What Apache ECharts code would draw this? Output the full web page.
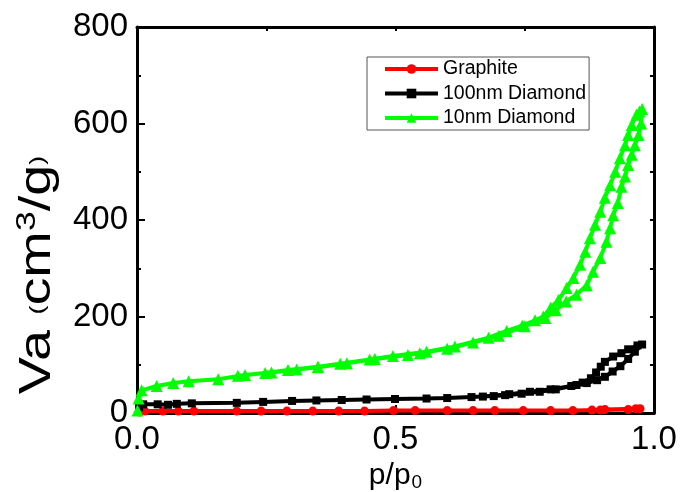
<!DOCTYPE html>
<html>
<head>
<meta charset="utf-8">
<script src="https://cdn.jsdelivr.net/npm/echarts@6/dist/echarts.min.js"></script>
<style>html,body{margin:0;padding:0;background:#fff}#c{width:681px;height:492px}</style>
</head>
<body>
<div id="c"></div>
<script>
// ---- data ----
const seriesNames = ['Graphite', '100nm Diamond', '10nm Diamond'];
const xTickLabels = ['0.0', '0.5', '1.0'];
const yTickLabels = ['0', '200', '400', '600', '800'];

const graphiteP = [0.005, 0.015, 0.05, 0.08, 0.11, 0.193, 0.24, 0.29, 0.34, 0.39, 0.44, 0.496, 0.538, 0.60, 0.65, 0.692, 0.747, 0.80, 0.843, 0.896, 0.95, 0.973, 0.965, 0.905, 0.88];
const graphiteV = [2, 4, 4, 4, 4, 4, 4, 4, 4, 4, 4, 5, 5, 5, 5, 5, 5, 5, 5, 6, 7, 9, 9, 7, 6];

const d100AdsP = [0.004, 0.012, 0.04, 0.06, 0.077, 0.106, 0.193, 0.244, 0.30, 0.347, 0.396, 0.444, 0.499, 0.56, 0.60, 0.647, 0.69, 0.712, 0.744, 0.779, 0.81, 0.85, 0.87, 0.89, 0.905, 0.92, 0.935, 0.95, 0.963, 0.977];
const d100AdsV = [12, 18, 18, 17, 19, 20, 21, 23, 25, 26, 27, 28, 29, 30, 31, 33, 35, 37, 40, 44, 49, 58, 62, 68, 75, 86, 97, 112, 127, 142];
const d100DesP = [0.968, 0.95, 0.937, 0.921, 0.905, 0.897, 0.888, 0.878, 0.862, 0.84, 0.80, 0.76, 0.72, 0.669];
const d100DesV = [140, 132, 124, 117, 106, 96, 84, 72, 63, 56, 49, 44, 39, 34];

const d10AdsP = [0.001, 0.003, 0.009, 0.038, 0.07, 0.10, 0.157, 0.209, 0.26, 0.309, 0.35, 0.406, 0.46, 0.524, 0.547, 0.60, 0.65, 0.70, 0.75, 0.79, 0.81, 0.83, 0.85, 0.87, 0.882, 0.896, 0.908, 0.915, 0.921, 0.93, 0.937, 0.944, 0.95, 0.957, 0.963, 0.97, 0.975, 0.977];
const d10AdsV = [5, 30, 47, 56, 62, 66, 70, 79, 84, 90, 95, 103, 112, 120, 124, 133, 146, 160, 180, 197, 213, 231, 245, 265, 293, 321, 355, 383, 410, 435, 469, 490, 514, 535, 555, 576, 600, 630];
const d10DesP = [0.972, 0.966, 0.957, 0.95, 0.944, 0.934, 0.925, 0.915, 0.905, 0.896, 0.886, 0.876, 0.867, 0.857, 0.844, 0.831, 0.815, 0.80, 0.786, 0.77, 0.745, 0.715, 0.68, 0.615, 0.56, 0.495, 0.45, 0.393, 0.35, 0.292, 0.248, 0.195];
const d10DesV = [625, 618, 597, 576, 555, 528, 500, 472, 446, 417, 390, 362, 334, 307, 280, 259, 234, 218, 200, 192, 181, 170, 156, 138, 127, 118, 111, 102, 96, 89, 83, 77];

function zip(p, v) { return p.map((x, i) => [x, v[i]]); }
const graphiteData = zip(graphiteP, graphiteV);
const d100Data = zip(d100AdsP.concat(d100DesP), d100AdsV.concat(d100DesV));
const d10Data = zip(d10AdsP.concat(d10DesP), d10AdsV.concat(d10DesV));

const FONT = 'Liberation Sans, Arial, Helvetica, sans-serif';
const chart = echarts.init(document.getElementById('c'), null, { renderer: 'canvas' });

function lineSeries(name, data, color, symbol, size) {
  return {
    name, type: 'line', data, clip: false,
    symbol, symbolSize: size, showSymbol: true,
    lineStyle: { color, width: 4 },
    itemStyle: { color, borderWidth: 0 },
    emphasis: { disabled: true }
  };
}

const axisBase = {
  axisLine: { show: true, onZero: false, lineStyle: { color: '#000', width: 3 } },
  minorTick: { show: true, splitNumber: 2, length: 4, lineStyle: { color: '#000', width: 2 } },
  splitLine: { show: false }
};

chart.setOption({
  animation: false,
  textStyle: { fontFamily: FONT },
  grid: { left: 137, right: 27, top: 27, bottom: 79, show: false, containLabel: false, outerBoundsMode: 'none' },
  legend: {
    orient: 'vertical', left: 367, top: 57,
    padding: [2, 3, 2, 16], itemGap: 4.5,
    itemWidth: 53, itemHeight: 12,
    borderColor: '#555', borderWidth: 1, backgroundColor: '#fff',
    lineStyle: { width: 4 },
    textStyle: { fontFamily: FONT, fontSize: 19.5, color: '#000', lineHeight: 20 },
    data: seriesNames
  },
  graphic: [{
    type: 'text', x: 38, y: 275, rotation: Math.PI / 2, scaleX: 1.27,
    silent: true,
    style: {
      text: '{b|Va }{p|(}{b|cm}{u|3}{b|/g}{p|)}',
      align: 'center', verticalAlign: 'middle', fill: '#000',
      rich: {
        b: { fontFamily: FONT, fontSize: 44, fill: '#000', color: '#000' },
        p: { fontFamily: FONT, fontSize: 21, fill: '#000', color: '#000' },
        u: { fontFamily: FONT, fontSize: 28, fill: '#000', color: '#000', padding: [0, 0, 22, 0] }
      }
    }
  }],
  xAxis: [Object.assign({}, axisBase, {
    type: 'value', min: 0, max: 1, interval: 0.5,
    name: '{b|p/p}{s|0}', nameLocation: 'middle', nameGap: 42,
    nameTextStyle: {
      rich: {
        b: { fontFamily: FONT, fontSize: 30, color: '#000' },
        s: { fontFamily: FONT, fontSize: 19, color: '#000', padding: [14, 0, 0, 1] }
      }
    },
    axisTick: { show: true, inside: true, length: 8, lineStyle: { color: '#000', width: 2 } },
    axisLabel: { fontFamily: FONT, fontSize: 33, color: '#000', margin: 10,
      formatter: v => xTickLabels[Math.round(v / 0.5)] }
  }), Object.assign({}, axisBase, {
    type: 'value', min: 0, max: 1, interval: 0.5, position: 'top',
    axisTick: { show: true, inside: true, length: 4, lineStyle: { color: '#000', width: 2 } },
    axisLabel: { show: false }
  })],
  yAxis: [Object.assign({}, axisBase, {
    type: 'value', min: 0, max: 800, interval: 200,
    axisTick: { show: true, inside: true, length: 8, lineStyle: { color: '#000', width: 2 } },
    axisLabel: { fontFamily: FONT, fontSize: 33, color: '#000', margin: 9,
      formatter: v => yTickLabels[Math.round(v / 200)] }
  }), Object.assign({}, axisBase, {
    type: 'value', min: 0, max: 800, interval: 200, position: 'right',
    axisTick: { show: true, inside: true, length: 4, lineStyle: { color: '#000', width: 2 } },
    axisLabel: { show: false }
  })],
  series: [
    lineSeries(seriesNames[0], graphiteData, '#ff0000', 'circle', 9),
    lineSeries(seriesNames[1], d100Data, '#000000', 'rect', 8),
    lineSeries(seriesNames[2], d10Data, '#00ff00', 'triangle', 12)
  ]
});
</script>
</body>
</html>
